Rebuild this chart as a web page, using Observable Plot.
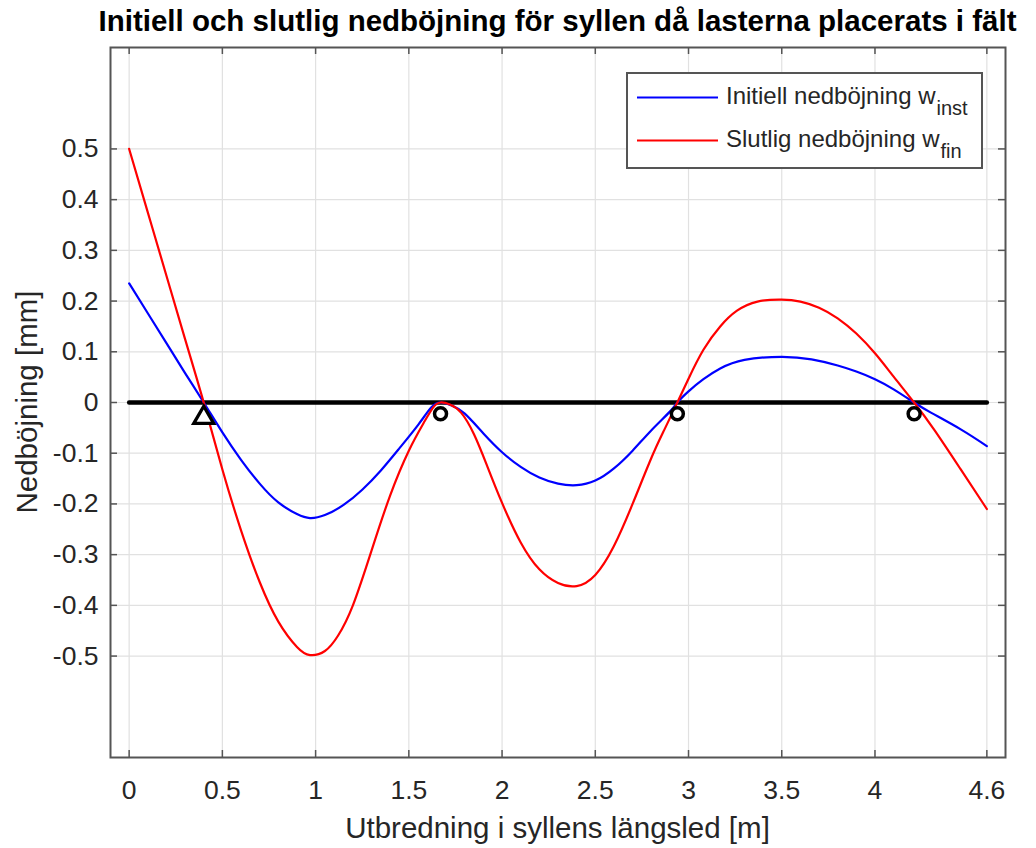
<!DOCTYPE html>
<html>
<head>
<meta charset="utf-8">
<script src="https://cdn.jsdelivr.net/npm/d3@7"></script>
<script src="https://cdn.jsdelivr.net/npm/@observablehq/plot@0.6"></script>
<style>
  body { margin: 0; background: #fff; }
  #wrap { position: relative; width: 1036px; height: 848px; font-family: "Liberation Sans", Arial, sans-serif; }
  #wrap svg.overlay { position: absolute; left: 0; top: 0; pointer-events: none; }
</style>
</head>
<body>
<div id="wrap"></div>
<script>
// ---------- data ----------
const titleText = "Initiell och slutlig nedböjning för syllen då lasterna placerats i fält";
const xLabelText = "Utbredning i syllens längsled [m]";
const yLabelText = "Nedböjning [mm]";

// Initial deflection w_inst (blue)
const distInst = [0, 0.1, 0.2, 0.3, 0.4, 0.5, 0.6, 0.7, 0.8, 0.9, 0.97, 1.05, 1.15, 1.25, 1.35, 1.45, 1.55, 1.62, 1.67, 1.73, 1.8, 1.9, 2.0, 2.1, 2.2, 2.3, 2.4, 2.5, 2.6, 2.7, 2.8, 2.9, 2.94, 3.0, 3.08, 3.17, 3.3, 3.5, 3.66, 3.8, 3.9, 4.0, 4.1, 4.21, 4.3, 4.46, 4.6];
const defInst  = [0.235, 0.176, 0.117, 0.058, 0.0, -0.059, -0.113, -0.160, -0.197, -0.220, -0.228, -0.222, -0.202, -0.172, -0.134, -0.090, -0.044, -0.010, 0.0, -0.006, -0.022, -0.061, -0.098, -0.127, -0.148, -0.160, -0.163, -0.154, -0.130, -0.095, -0.055, -0.018, 0.0, 0.022, 0.046, 0.067, 0.084, 0.090, 0.085, 0.073, 0.061, 0.046, 0.026, 0.0, -0.020, -0.053, -0.086];

// Final deflection w_fin (red)
const distFin = [0, 0.1, 0.2, 0.3, 0.4, 0.5, 0.6, 0.7, 0.8, 0.9, 0.97, 1.05, 1.12, 1.2, 1.3, 1.4, 1.5, 1.58, 1.63, 1.67, 1.72, 1.78, 1.85, 1.92, 2.0, 2.1, 2.2, 2.3, 2.4, 2.5, 2.6, 2.7, 2.8, 2.87, 2.94, 3.0, 3.08, 3.17, 3.26, 3.37, 3.5, 3.6, 3.7, 3.8, 3.9, 4.0, 4.1, 4.21, 4.32, 4.46, 4.6];
const defFin  = [0.5, 0.375, 0.25, 0.125, 0.0, -0.132, -0.252, -0.354, -0.432, -0.482, -0.498, -0.490, -0.460, -0.400, -0.292, -0.183, -0.095, -0.040, -0.010, 0.0, -0.004, -0.020, -0.063, -0.125, -0.198, -0.276, -0.329, -0.356, -0.362, -0.340, -0.283, -0.200, -0.110, -0.054, 0.0, 0.047, 0.104, 0.150, 0.181, 0.199, 0.203, 0.199, 0.187, 0.166, 0.136, 0.097, 0.051, 0.0, -0.055, -0.132, -0.21];

// Beam (black line) and supports
const beamX = [0, 4.6];
const beamY = [0, 0];
const supportX = [0.4, 1.67, 2.94, 4.21];
const supportY = [-0.03, -0.022, -0.022, -0.022];
const supportKind = ["triangle", "circle", "circle", "circle"];

// Axes
const xDomain = [-0.1, 4.7];
const yDomain = [-0.7, 0.7];
const xTicks = [0, 0.5, 1, 1.5, 2, 2.5, 3, 3.5, 4, 4.6];
const xTickLabels = ["0", "0.5", "1", "1.5", "2", "2.5", "3", "3.5", "4", "4.6"];
const yTicks = [-0.5, -0.4, -0.3, -0.2, -0.1, 0, 0.1, 0.2, 0.3, 0.4, 0.5];
const yTickLabels = ["-0.5", "-0.4", "-0.3", "-0.2", "-0.1", "0", "0.1", "0.2", "0.3", "0.4", "0.5"];

// Legend
const legendNames = ["Initiell nedböjning w", "Slutlig nedböjning w"];
const legendSubs = ["inst", "fin"];
const legendColors = ["#0000ff", "#ff0000"];

// ---------- chart ----------
const W = 1036, H = 848;
const mL = 110, mR = 31, mT = 47, mB = 91;
const frameW = W - mL - mR, frameH = H - mT - mB;
const tickLen = 7;
const axisColor = "#555555";
const textColor = "#262626";

const inst = distInst.map((x, i) => ({x, y: defInst[i]}));
const fin = distFin.map((x, i) => ({x, y: defFin[i]}));
const beam = beamX.map((x, i) => ({x, y: beamY[i]}));
const supports = supportX.map((x, i) => ({x, y: supportY[i], kind: supportKind[i]}));

const chart = Plot.plot({
  width: W, height: H,
  marginLeft: mL, marginRight: mR, marginTop: mT, marginBottom: mB,
  style: {fontFamily: "'Liberation Sans', Arial, sans-serif", background: "white"},
  x: {domain: xDomain},
  y: {domain: yDomain},
  marks: [
    Plot.ruleX(xTicks, {stroke: "#e1e1e1", strokeWidth: 1.2}),
    Plot.ruleY(yTicks, {stroke: "#e1e1e1", strokeWidth: 1.2}),
    Plot.line(beam, {x: "x", y: "y", stroke: "black", strokeWidth: 4.5}),
    Plot.line(inst, {x: "x", y: "y", stroke: legendColors[0], strokeWidth: 2.2, curve: "natural"}),
    Plot.line(fin, {x: "x", y: "y", stroke: legendColors[1], strokeWidth: 2.2, curve: "natural"}),
    Plot.dot(supports.filter(d => d.kind === "triangle"), {x: "x", y: "y", symbol: "triangle", r: 7.4, stroke: "black", strokeWidth: 3.3, fill: "white"}),
    Plot.dot(supports.filter(d => d.kind === "circle"), {x: "x", y: "y", symbol: "circle", r: 6, stroke: "black", strokeWidth: 3.5, fill: "white"}),
    // inward ticks on all four sides
    Plot.ruleX(xTicks, {insetTop: frameH - tickLen, stroke: axisColor, strokeWidth: 1.5}),
    Plot.ruleX(xTicks, {insetBottom: frameH - tickLen, stroke: axisColor, strokeWidth: 1.5}),
    Plot.ruleY(yTicks, {insetRight: frameW - tickLen, stroke: axisColor, strokeWidth: 1.5}),
    Plot.ruleY(yTicks, {insetLeft: frameW - tickLen, stroke: axisColor, strokeWidth: 1.5}),
    Plot.frame({stroke: axisColor, strokeWidth: 2}),
    Plot.axisX(xTicks, {tickSize: 0, tickPadding: 23, fontSize: 26.5, color: textColor, label: null,
      tickFormat: d => xTickLabels[xTicks.indexOf(d)]}),
    Plot.axisY(yTicks, {tickSize: 0, tickPadding: 12, fontSize: 26.5, color: textColor, label: null,
      tickFormat: d => yTickLabels[yTicks.indexOf(d)]})
  ]
});

const wrap = document.getElementById("wrap");
wrap.appendChild(chart);

// ---------- title, axis labels, legend (overlay) ----------
const ov = d3.select(wrap).append("svg")
  .attr("class", "overlay").attr("width", W).attr("height", H)
  .attr("font-family", "'Liberation Sans', Arial, sans-serif");

const cx = mL + frameW / 2;
ov.append("text").attr("x", cx).attr("y", 31).attr("text-anchor", "middle")
  .attr("font-size", 29.5).attr("font-weight", "bold").attr("fill", "#000").text(titleText);
ov.append("text").attr("x", cx).attr("y", 838).attr("text-anchor", "middle")
  .attr("font-size", 29.5).attr("fill", textColor).text(xLabelText);
ov.append("text").attr("transform", `translate(37,${mT + frameH / 2}) rotate(-90)`).attr("text-anchor", "middle")
  .attr("font-size", 29.5).attr("fill", textColor).text(yLabelText);

// legend
const lg = ov.append("g");
lg.append("rect").attr("x", 627).attr("y", 73).attr("width", 355).attr("height", 95)
  .attr("fill", "white").attr("stroke", axisColor).attr("stroke-width", 2);
legendNames.forEach((name, i) => {
  const yb = 104 + i * 43;
  lg.append("line").attr("x1", 637).attr("x2", 718).attr("y1", yb - 6.5).attr("y2", yb - 6.5)
    .attr("stroke", legendColors[i]).attr("stroke-width", 2.2);
  const t = lg.append("text").attr("x", 726).attr("y", yb).attr("font-size", 24).attr("fill", textColor);
  t.append("tspan").text(name);
  t.append("tspan").attr("font-size", 20).attr("dy", 11).attr("dx", 1).text(legendSubs[i]);
});
</script>
</body>
</html>
